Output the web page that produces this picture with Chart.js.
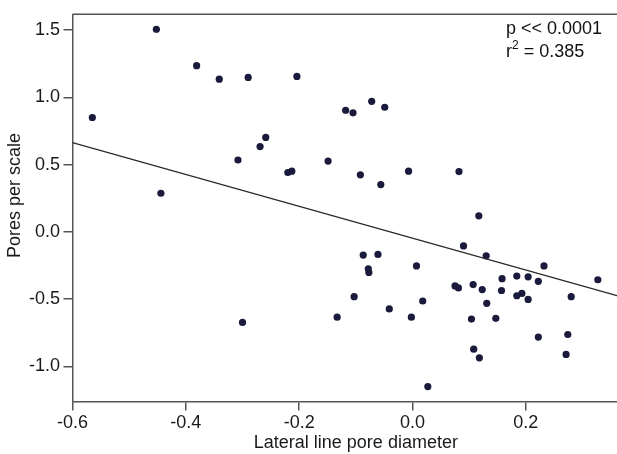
<!DOCTYPE html>
<html>
<head>
<meta charset="utf-8">
<script src="https://cdn.jsdelivr.net/npm/chart.js@4.4.1/dist/chart.umd.min.js"></script>
<style>
  html, body { margin: 0; padding: 0; background: #fff; overflow: hidden; }
  #wrap { width: 617px; height: 454px; overflow: hidden; }
</style>
</head>
<body>
<div id="wrap"><canvas id="scatterChart" width="645" height="454"></canvas></div>
<script>
// lateral line pore diameter (x) vs pores per scale (y)
const poreDiameter = [
  -0.565, -0.452, -0.381, -0.341, -0.290, -0.204, -0.444, -0.308, -0.269, -0.259,
  -0.220, -0.213, -0.118, -0.105, -0.072, -0.049, -0.149, -0.092, -0.056, -0.007,
  0.082, 0.117, -0.300, 0.090, 0.130, -0.087, -0.061, -0.078, -0.077, 0.007,
  0.232, 0.327, 0.158, 0.184, 0.204, 0.222, 0.075, 0.081, 0.107, 0.123,
  0.157, 0.184, 0.193, 0.204, 0.280, -0.103, 0.018, 0.131, -0.041, -0.133,
  -0.002, 0.104, 0.147, 0.222, 0.274, 0.108, 0.118, 0.271, 0.027
];
const poresPerScale = [
  0.850, 1.506, 1.235, 1.135, 1.148, 1.155, 0.287, 0.534, 0.634, 0.702,
  0.441, 0.451, 0.904, 0.885, 0.970, 0.926, 0.526, 0.424, 0.351, 0.451,
  0.448, 0.119, -0.673, -0.105, -0.178, -0.173, -0.168, -0.275, -0.302, -0.253,
  -0.253, -0.356, -0.348, -0.329, -0.334, -0.368, -0.402, -0.417, -0.392, -0.429,
  -0.436, -0.475, -0.458, -0.502, -0.482, -0.482, -0.514, -0.531, -0.573, -0.634,
  -0.634, -0.648, -0.643, -0.782, -0.763, -0.872, -0.936, -0.911, -1.150
];

// fitted regression line end points
const fitX = [-0.6, 0.4];
const fitY = [0.663, -0.521];

const xTicks = [-0.6, -0.4, -0.2, 0.0, 0.2];
const yTicks = [-1.0, -0.5, 0.0, 0.5, 1.0, 1.5];

const statLines = ['p << 0.0001', 'r', '2', ' = 0.385'];

const FONT = "'Liberation Sans', Arial, sans-serif";
const AXIS = '#555555';

const frame = {
  id: 'frame',
  afterDraw(chart) {
    const { ctx, chartArea: a } = chart;
    ctx.save();
    ctx.strokeStyle = AXIS;
    ctx.lineWidth = 1.5;
    ctx.beginPath();
    ctx.moveTo(a.left, a.top);
    ctx.lineTo(a.right, a.top);
    ctx.lineTo(a.right, a.bottom);
    ctx.stroke();

    // stats text, top right
    ctx.fillStyle = '#111';
    ctx.textBaseline = 'alphabetic';
    ctx.font = '18px ' + FONT;
    ctx.textAlign = 'left';
    const x0 = 506;
    ctx.fillText(statLines[0], x0, 34);
    ctx.fillText(statLines[1], x0, 57);
    const rw = ctx.measureText(statLines[1]).width;
    ctx.font = '12px ' + FONT;
    ctx.fillText(statLines[2], x0 + rw, 49);
    const sw = ctx.measureText(statLines[2]).width;
    ctx.font = '18px ' + FONT;
    ctx.fillText(statLines[3], x0 + rw + sw, 57);
    ctx.restore();
  }
};

const points = poreDiameter.map((x, i) => ({ x, y: poresPerScale[i] }));
const fit = fitX.map((x, i) => ({ x, y: fitY[i] }));

new Chart(document.getElementById('scatterChart'), {
  type: 'scatter',
  data: {
    datasets: [
      {
        type: 'line',
        data: fit,
        borderColor: '#2a2a2a',
        borderWidth: 1.2,
        pointRadius: 0,
        fill: false
      },
      {
        data: points,
        backgroundColor: '#1a1a3c',
        borderWidth: 0,
        pointRadius: 3.6
      }
    ]
  },
  options: {
    responsive: false,
    animation: false,
    layout: { padding: { top: 8, left: 0, right: 5.8, bottom: 0 } },
    plugins: { legend: { display: false }, tooltip: { enabled: false } },
    scales: {
      x: {
        type: 'linear',
        min: -0.6,
        max: 0.4,
        afterBuildTicks: (s) => { s.ticks = xTicks.map((v) => ({ value: v })); },
        afterFit: (s) => { s.height = 52.5; },
        border: { display: true, color: AXIS, width: 1.5 },
        grid: { drawOnChartArea: false, drawTicks: true, tickLength: 9, color: AXIS, lineWidth: 1.5 },
        ticks: {
          padding: 2,
          color: '#1a1a1a',
          font: { family: FONT, size: 18 },
          maxRotation: 0,
          callback: (v) => Number(v).toFixed(1)
        },
        title: {
          display: true,
          text: 'Lateral line pore diameter',
          color: '#1a1a1a',
          font: { family: FONT, size: 18 },
          padding: { top: 0, bottom: 0 }
        }
      },
      y: {
        type: 'linear',
        min: -1.261,
        max: 1.617,
        afterBuildTicks: (s) => { s.ticks = yTicks.map((v) => ({ value: v })); },
        afterFit: (s) => { s.width = 72.5; },
        border: { display: true, color: AXIS, width: 1.5 },
        grid: { drawOnChartArea: false, drawTicks: true, tickLength: 9, color: AXIS, lineWidth: 1.5 },
        ticks: {
          padding: 3.5,
          color: '#1a1a1a',
          font: { family: FONT, size: 18 },
          callback: (v) => Number(v).toFixed(1)
        },
        title: {
          display: true,
          text: '     Pores per scale',
          color: '#1a1a1a',
          font: { family: FONT, size: 18 },
          padding: { top: 4.6, bottom: 0 }
        }
      }
    }
  },
  plugins: [frame]
});
</script>
</body>
</html>
